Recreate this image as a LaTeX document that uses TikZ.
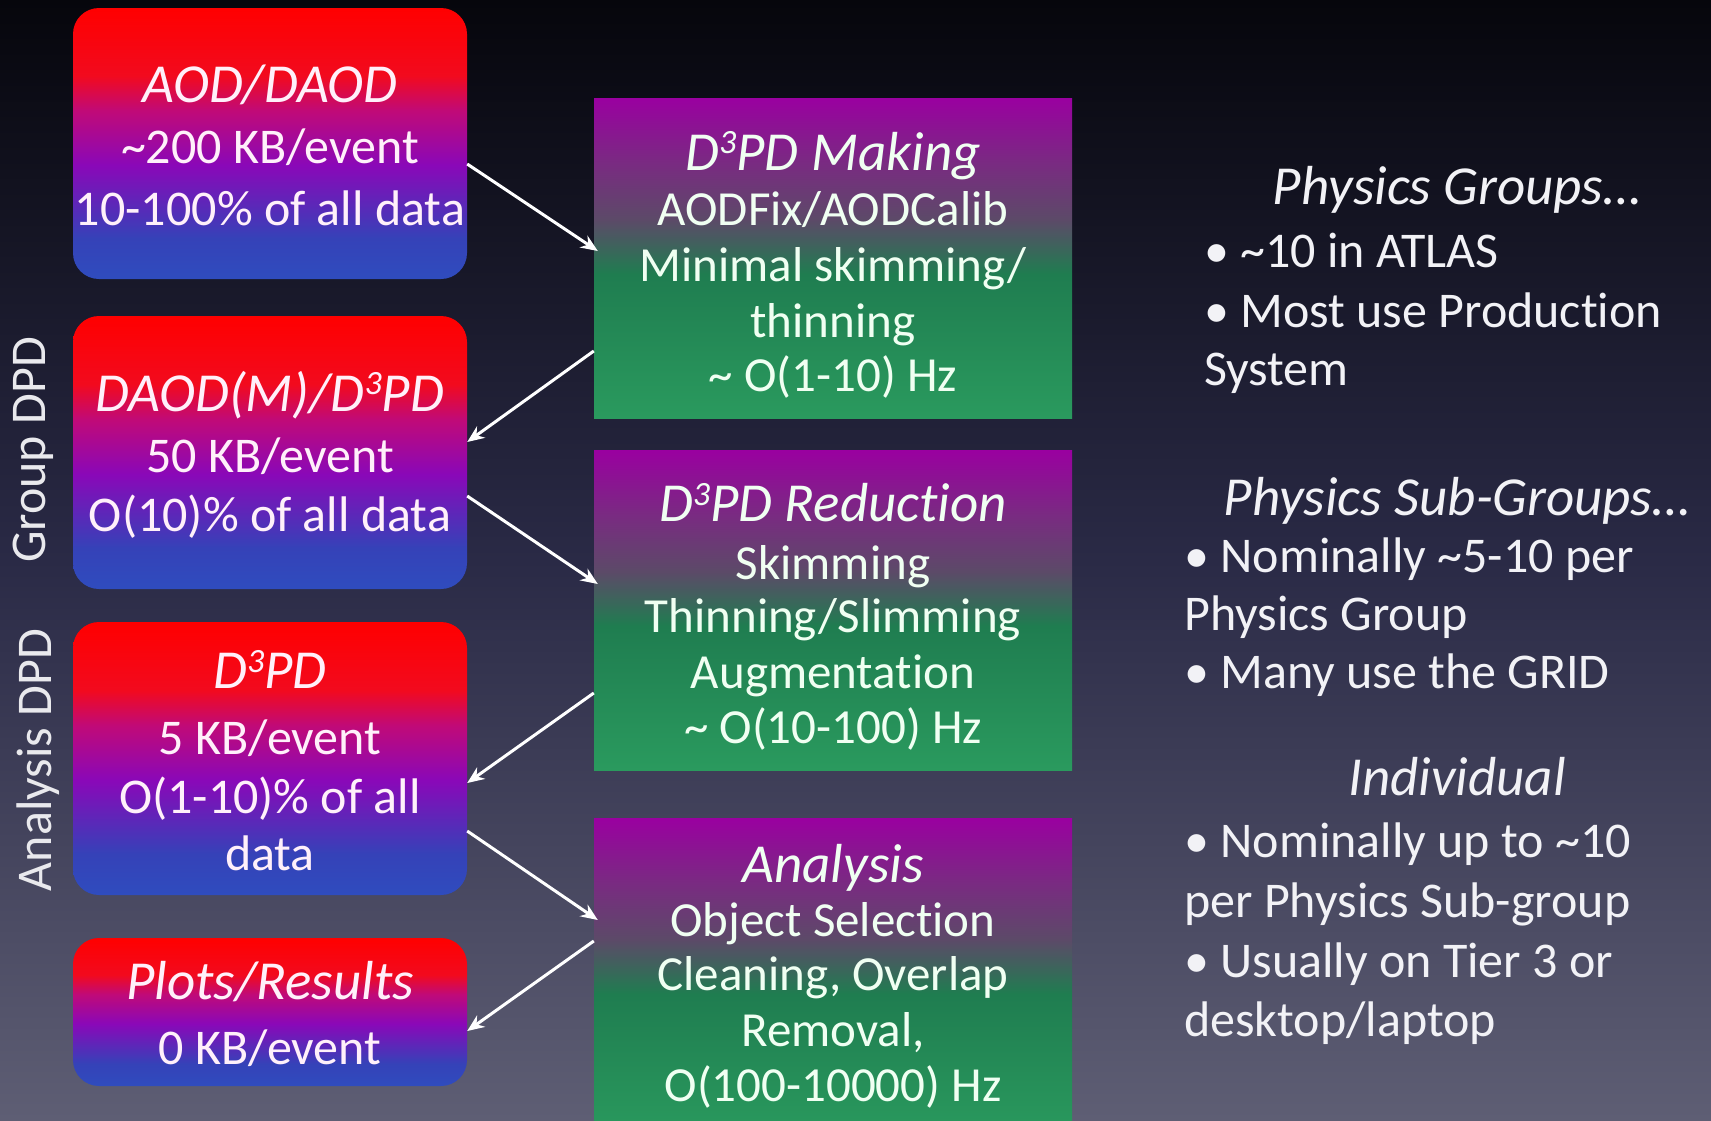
\documentclass[tikz,border=0pt]{standalone}
\usepackage{fontspec}
\setmainfont{Carlito}[Ligatures={NoCommon}]
\usetikzlibrary{arrows.meta}
\newcommand{\supthree}{\raisebox{0.3em}{\fontsize{34}{34}\selectfont 3}}
\definecolor{bgtop}{HTML}{06060C}
\definecolor{bgmid}{HTML}{2A2A46}
\definecolor{bgbot}{HTML}{5E5E74}
\definecolor{rbBlue}{HTML}{2F4CBE}
\definecolor{rbBlue2}{HTML}{3542B8}
\definecolor{rbPurple}{HTML}{8A08B8}
\definecolor{rbMag}{HTML}{C00A78}
\definecolor{rbRed}{HTML}{F20A1E}
\definecolor{rbTop}{HTML}{FF0000}
\definecolor{gbBot}{HTML}{2A9A5E}
\definecolor{gbMid}{HTML}{1F7D50}
\definecolor{gbMauve}{HTML}{5C4A68}
\definecolor{gbPurp}{HTML}{7A2A82}
\definecolor{gbTop}{HTML}{9A00A0}
\definecolor{txtRed}{HTML}{FFF0FA}
\definecolor{txtGreen}{HTML}{F0FFF2}
\definecolor{txtSide}{HTML}{F2F2F6}
\pgfdeclareverticalshading{bgshade}{100bp}{color(0bp)=(bgbot); color(25bp)=(bgbot); color(50bp)=(bgmid); color(75bp)=(bgtop); color(100bp)=(bgtop)}
\pgfdeclareverticalshading{redshade}{100bp}{color(0bp)=(rbBlue); color(25bp)=(rbBlue); color(32.5bp)=(rbBlue2); color(46bp)=(rbPurple); color(56bp)=(rbMag); color(62.5bp)=(rbRed); color(75bp)=(rbTop); color(100bp)=(rbTop)}
\pgfdeclareverticalshading{greenshade}{100bp}{color(0bp)=(gbBot); color(25bp)=(gbBot); color(47.5bp)=(gbMid); color(56bp)=(gbMauve); color(65bp)=(gbPurp); color(75bp)=(gbTop); color(100bp)=(gbTop)}
\tikzset{
  redbox/.style={rectangle, rounded corners=26pt, minimum width=394pt, shading=redshade, inner sep=0pt},
  greenbox/.style={rectangle, minimum width=478pt, minimum height=320pt, shading=greenshade, inner sep=0pt},
  rtitle/.style={font=\fontsize{55}{66}\selectfont\itshape, text=txtRed, inner sep=0pt, anchor=base},
  rbody/.style={font=\fontsize{50}{60}\selectfont, text=txtRed, inner sep=0pt, anchor=base},
  gtitle/.style={font=\fontsize{55}{66}\selectfont\itshape, text=txtGreen, inner sep=0pt, anchor=base},
  gbody/.style={font=\fontsize{49}{60}\selectfont, text=txtGreen, inner sep=0pt, anchor=base},
  sidetitle/.style={font=\fontsize{55}{66}\selectfont\itshape, text=txtSide, inner sep=0pt, anchor=base},
  sidetext/.style={font=\fontsize{50}{60}\selectfont, text=txtSide, inner sep=0pt, anchor=base west},
  sidelabel/.style={font=\fontsize{50}{60}\selectfont, text=txtSide!92!gray, inner sep=0pt, rotate=90},
  flow/.style={draw=white, line width=3pt, -{Stealth[length=17pt,width=14pt]}},
}
\begin{document}
\begin{tikzpicture}[x=1pt,y=-1pt]
\useasboundingbox (0,0) rectangle (1711,1120);
\clip (0,0) rectangle (1711,1120);
\fill[shading=bgshade] (0,0) rectangle (1711,1120);

% red boxes
\node[redbox, minimum height=271pt] (aod) at (270,143.5) {};
\node[redbox, minimum height=273pt] (daod) at (270,452.5) {};
\node[redbox, minimum height=273pt] (d3pd) at (270,758.5) {};
\node[redbox, minimum height=148pt] (plots) at (270,1012) {};

% green boxes
\node[greenbox] (make) at (833,258) {};
\node[greenbox] (redu) at (833,610) {};
\node[greenbox] (ana) at (833,978) {};

% red box texts
\node[rtitle] (aodT) at (270,102.6) {AOD/DAOD};
\node[rbody] (aodA) at (270,163.7) {\textasciitilde200 KB/event};
\node[rbody] (aodB) at (270,225.9) {10-100\% of all data};

\node[rtitle] (daodT) at (270,411.4) {DAOD(M)/D\supthree PD};
\node[rbody] (daodA) at (270,472.5) {50 KB/event};
\node[rbody] (daodB) at (270,531.4) {O(10)\% of all data};

\node[rtitle] (d3pdT) at (270,688.5) {D\supthree PD};
\node[rbody] (d3pdA) at (270,754) {5 KB/event};
\node[rbody] (d3pdB) at (270,813) {O(1-10)\% of all};
\node[rbody] (d3pdC) at (270,870.8) {data};

\node[rtitle] (plotsT) at (270,999.5) {Plots/Results};
\node[rbody] (plotsA) at (270,1064) {0 KB/event};

% green box texts
\node[gtitle] (makeT) at (833,170.2) {D\supthree PD Making};
\node[gbody] (makeA) at (833,225.9) {AODFix/AODCalib};
\node[gbody] (makeB) at (833,281.5) {Minimal skimming/};
\node[gbody] (makeC) at (833,337.2) {thinning};
\node[gbody] (makeD) at (833,391.7) {\textasciitilde\ O(1-10) Hz};

\node[gtitle] (reduT) at (833,521.6) {D\supthree PD Reduction};
\node[gbody] (reduA) at (833,579.4) {Skimming};
\node[gbody] (reduB) at (833,632.9) {Thinning/Slimming};
\node[gbody] (reduC) at (833,688.5) {Augmentation};
\node[gbody] (reduD) at (833,743.1) {\textasciitilde\ O(10-100) Hz};

\node[gtitle] (anaT) at (833,882.8) {Analysis};
\node[gbody] (anaA) at (833,936.3) {Object Selection};
\node[gbody] (anaB) at (833,990.8) {Cleaning, Overlap};
\node[gbody] (anaC) at (833,1046.5) {Removal,};
\node[gbody] (anaD) at (833,1101) {O(100-10000) Hz};

% side labels
\node[sidelabel] (grp) at (33,450) {Group DPD};
\node[sidelabel] (anl) at (38,760) {Analysis DPD};

% arrows
\draw[flow] ([yshift=-20.5pt]aod.east) -- ([xshift=4pt,yshift=7pt]make.west);
\draw[flow] ([yshift=-93pt]make.west) -- ([yshift=10.5pt]daod.east);
\draw[flow] ([yshift=-43.5pt]daod.east) -- ([xshift=4pt,yshift=26pt]redu.west);
\draw[flow] ([yshift=-83pt]redu.west) -- ([yshift=-24.5pt]d3pd.east);
\draw[flow] ([yshift=-72.5pt]d3pd.east) -- ([xshift=4pt,yshift=58pt]ana.west);
\draw[flow] ([yshift=37pt]ana.west) -- ([yshift=-19pt]plots.east);

% right column
\node[sidetitle] (pgT) at (1457,204) {Physics Groups\ldots};
\node[sidetext] (pg1) at (1204,267.3) {• \textasciitilde10 in ATLAS};
\node[sidetext] (pg2) at (1204,327.4) {• Most use Production};
\node[sidetext] (pg3) at (1204,385.2) {System};

\node[sidetitle] (psgT) at (1457,515) {Physics Sub-Groups\ldots};
\node[sidetext] (psg1) at (1184,572.9) {• Nominally \textasciitilde5-10 per};
\node[sidetext] (psg2) at (1184,630.7) {Physics Group};
\node[sidetext] (psg3) at (1184,688.5) {• Many use the GRID};

\node[sidetitle] (indT) at (1457,795.5) {Individual};
\node[sidetext] (ind1) at (1184,857.7) {• Nominally up to \textasciitilde10};
\node[sidetext] (ind2) at (1184,917.7) {per Physics Sub-group};
\node[sidetext] (ind3) at (1184,977.7) {• Usually on Tier 3 or};
\node[sidetext] (ind4) at (1184,1036.6) {desktop/laptop};
\end{tikzpicture}
\end{document}
